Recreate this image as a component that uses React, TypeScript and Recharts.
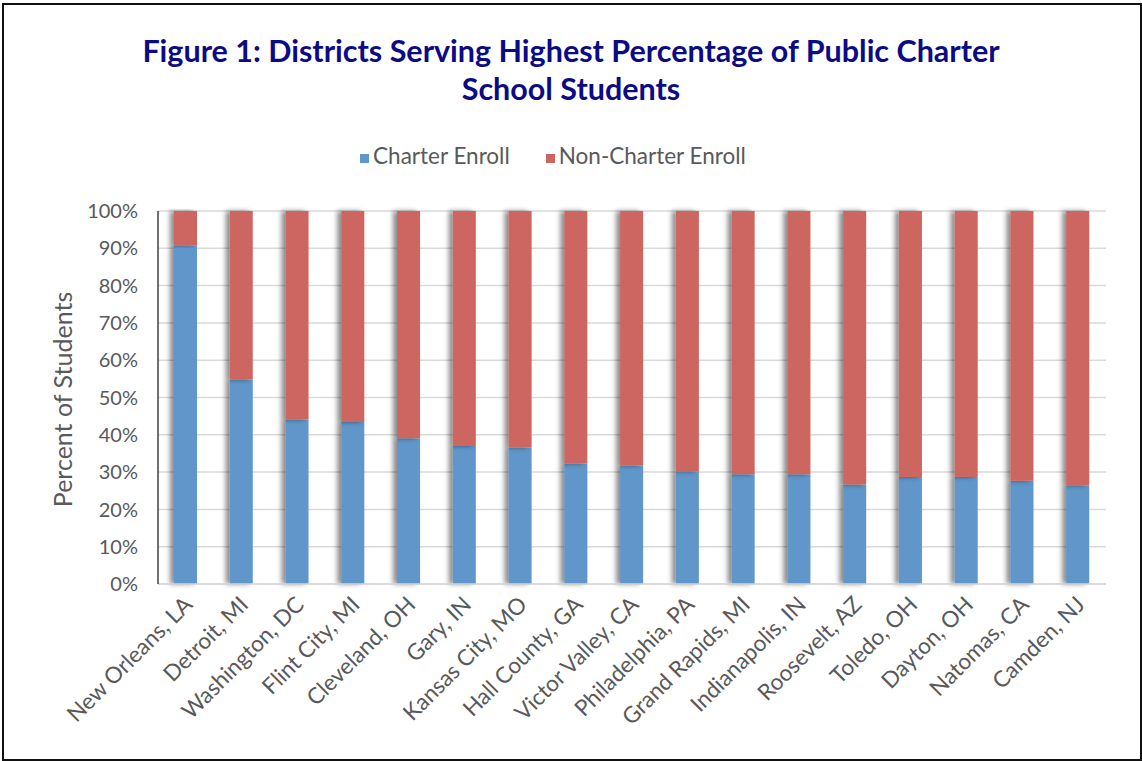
import React from 'react';
import {
  BarChart,
  Bar,
  XAxis,
  YAxis,
  CartesianGrid,
  Legend,
  Rectangle,
} from 'recharts';

const districts = [
  'New Orleans, LA',
  'Detroit, MI',
  'Washington, DC',
  'Flint City, MI',
  'Cleveland, OH',
  'Gary, IN',
  'Kansas City, MO',
  'Hall County, GA',
  'Victor Valley, CA',
  'Philadelphia, PA',
  'Grand Rapids, MI',
  'Indianapolis, IN',
  'Roosevelt, AZ',
  'Toledo, OH',
  'Dayton, OH',
  'Natomas, CA',
  'Camden, NJ',
];

const charterEnroll = [
  90.8, 54.8, 44.1, 43.4, 39.1, 37.0, 36.6, 32.3, 31.8, 30.2, 29.4, 29.4, 26.7,
  28.7, 28.7, 27.7, 26.5,
];

const nonCharterEnroll = [
  9.2, 45.2, 55.9, 56.6, 60.9, 63.0, 63.4, 67.7, 68.2, 69.8, 70.6, 70.6, 73.3,
  71.3, 71.3, 72.3, 73.5,
];

const yTicks = [0, 10, 20, 30, 40, 50, 60, 70, 80, 90, 100];

const data = districts.map((name, i) => ({
  name,
  charter: charterEnroll[i],
  nonCharter: nonCharterEnroll[i],
}));

const COLORS = {
  charter: '#6196C9',
  nonCharter: '#CD6660',
  text: '#595959',
  grid: '#D9D9D9',
  title: '#0B0B85',
};

const FONT = 'Lato, "Open Sans", sans-serif';

const ShadowBar = (props: any) => <Rectangle {...props} filter="url(#barShadow)" />;

const DistrictTick = ({ x, y, payload }: any) => (
  <text
    x={x + 8}
    y={y + 14}
    transform={`rotate(-45, ${x + 8}, ${y + 14})`}
    textAnchor="end"
    fill={COLORS.text}
    fontSize={22.5}
    fontFamily={FONT}
  >
    {payload.value}
  </text>
);

const YLabel = ({ viewBox }: any) => {
  const cx = 62;
  const cy = viewBox.y + viewBox.height / 2 + 2;
  return (
    <text
      x={cx}
      y={cy}
      transform={`rotate(-90, ${cx}, ${cy})`}
      textAnchor="middle"
      dominantBaseline="central"
      fill={COLORS.text}
      fontSize={25}
      fontFamily={FONT}
    >
      Percent of Students
    </text>
  );
};

export default function App() {
  return (
    <div
      style={{
        position: 'absolute',
        left: 0,
        top: 0,
        width: 1142,
        height: 761,
        background: '#fff',
        fontFamily: FONT,
      }}
    >
      <div
        style={{
          position: 'absolute',
          left: 2,
          top: 3,
          width: 1136,
          height: 754,
          border: '2px solid #111',
        }}
      />
      <div
        style={{
          position: 'absolute',
          left: 0,
          top: 31,
          width: 1142,
          textAlign: 'center',
          color: COLORS.title,
          fontWeight: 700,
          fontSize: 30.5,
          lineHeight: '38px',
          fontFamily: FONT,
        }}
      >
        Figure 1: Districts Serving Highest Percentage of Public Charter
        <br />
        School Students
      </div>
      <BarChart
        width={1142}
        height={761}
        data={data}
        margin={{ top: 211, right: 36, bottom: 0, left: 20 }}
        barSize={23}
      >
        <defs>
          <filter id="barShadow" x="-60%" y="-5%" width="200%" height="110%">
            <feDropShadow dx={-4} dy={0} stdDeviation={2.5} floodColor="#000" floodOpacity={0.45} />
          </filter>
        </defs>
        <CartesianGrid vertical={false} stroke={COLORS.grid} strokeWidth={1.5} />
        <XAxis
          dataKey="name"
          interval={0}
          tick={<DistrictTick />}
          tickLine={false}
          axisLine={{ stroke: COLORS.grid, strokeWidth: 1.5 }}
          height={177}
        />
        <XAxis xAxisId="top" orientation="top" dataKey="name" tick={false} tickLine={false} height={0} axisLine={{ stroke: '#222', strokeWidth: 1.5 }} />
        <YAxis
          domain={[0, 100]}
          ticks={yTicks}
          interval={0}
          tickFormatter={(v: number) => `${v}%`}
          tick={{ fill: COLORS.text, fontSize: 20, fontFamily: FONT }}
          tickLine={false}
          tickSize={0}
          tickMargin={20}
          axisLine={{ stroke: '#404040', strokeWidth: 1.5 }}
          width={138}
          label={<YLabel />}
        />
        <YAxis yAxisId="right" orientation="right" domain={[0, 100]} tick={false} tickLine={false} width={0} axisLine={{ stroke: '#808080', strokeWidth: 1.5 }} />
        <Legend
          verticalAlign="middle"
          align="center"
          iconType="square"
          iconSize={9}
          wrapperStyle={{ top: 142, left: 0, width: 1142, fontSize: 22.5, fontFamily: FONT }}
          formatter={(value: string) => <span style={{ color: COLORS.text, marginRight: 26 }}>{value}</span>}
        />
        <Bar
          dataKey="charter"
          name="Charter Enroll"
          stackId="a"
          fill={COLORS.charter}
          shape={ShadowBar}
          isAnimationActive={false}
        />
        <Bar
          dataKey="nonCharter"
          name="Non-Charter Enroll"
          stackId="a"
          fill={COLORS.nonCharter}
          shape={ShadowBar}
          isAnimationActive={false}
        />
      </BarChart>
    </div>
  );
}
